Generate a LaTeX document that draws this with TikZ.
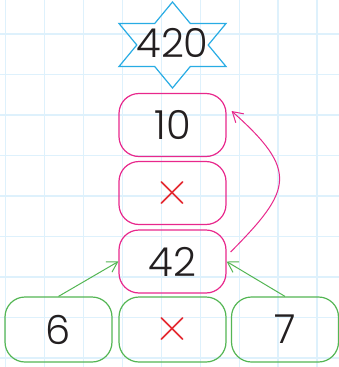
\documentclass[tikz,border=0pt]{standalone}
\usepackage{fontspec}
\setmainfont{Poppins}[UprightFont=* Light]
\newfontfamily\lmfont{Latin Modern Roman}
\usetikzlibrary{arrows.meta,calc}
\definecolor{gridc}{RGB}{222,241,252}
\definecolor{magc}{RGB}{232,40,140}
\definecolor{grnc}{RGB}{84,182,84}
\definecolor{starc}{RGB}{40,172,228}
\definecolor{redc}{RGB}{228,36,44}
\definecolor{txtc}{RGB}{35,31,32}
\begin{document}
\begin{tikzpicture}[x=1pt,y=-1pt,
  numtxt/.style={font=\fontsize{40}{40}\selectfont, text=txtc},
  multxt/.style={font=\lmfont\fontsize{50}{50}\selectfont, text=redc},
  magbox/.style={draw=magc, line width=1.2pt, rounded corners=20pt, minimum width=107pt, minimum height=63pt, inner sep=0pt},
  grnbox/.style={draw=grnc, line width=1.2pt, rounded corners=20pt, minimum width=107pt, minimum height=65pt, inner sep=0pt},
  grnarrow/.style={draw=grnc, line width=1pt, -{Straight Barb[length=10pt,width=12pt]}},
  magarrow/.style={draw=magc, line width=1pt, -{Straight Barb[length=10pt,width=12pt]}}]
\useasboundingbox (0,0) rectangle (339,367);
\fill[white] (0,0) rectangle (339,367);
% grid
\foreach \i in {0,...,8} {\draw[gridc, line width=1.4pt] ({5.5+38.95*\i},0) -- ({5.5+38.95*\i},367);}
\foreach \j in {0,...,8} {\draw[gridc, line width=1.4pt] (0,{34+40.5*\j}) -- (339,{34+40.5*\j});}
% star
\node[numtxt] (star) at (172.5,42.5) {420};
\begin{scope}[shift={($(star.center)+(0,2.5)$)}]
\draw[starc, line width=1.2pt, line join=miter]
 (0,-43) -- (-17.8,-21.5) -- (-53.5,-21.5) -- (-35.7,0) -- (-53.5,21.5) -- (-17.8,21.5)
 -- (0,43) -- (17.8,21.5) -- (53.5,21.5) -- (35.7,0) -- (53.5,-21.5) -- (17.8,-21.5) -- cycle;
\end{scope}
% magenta column
\node[magbox, numtxt] (n10) at (172.5,125) {10};
\node[magbox, multxt] (nx) at (172.5,193) {×};
\node[magbox, numtxt] (n42) at (172.5,261.5) {42};
% green row
\node[grnbox, numtxt] (g6) at (58.5,329.5) {6};
\node[grnbox, multxt] (gx) at (172.5,329.5) {×};
\node[grnbox, numtxt] (g7) at (285,329.5) {7};
% arrows
\draw[grnarrow] (g6.north) -- (n42.west);
\draw[grnarrow] (g7.north) -- (n42.east);
\coordinate (cs) at ($(n42.east)+(4,-9.5)$);
\coordinate (ce) at ($(n10.east)+(5,-14)$);
\draw[magarrow] (cs) .. controls (292,190) and (299,171) .. (ce);
\end{tikzpicture}
\end{document}
